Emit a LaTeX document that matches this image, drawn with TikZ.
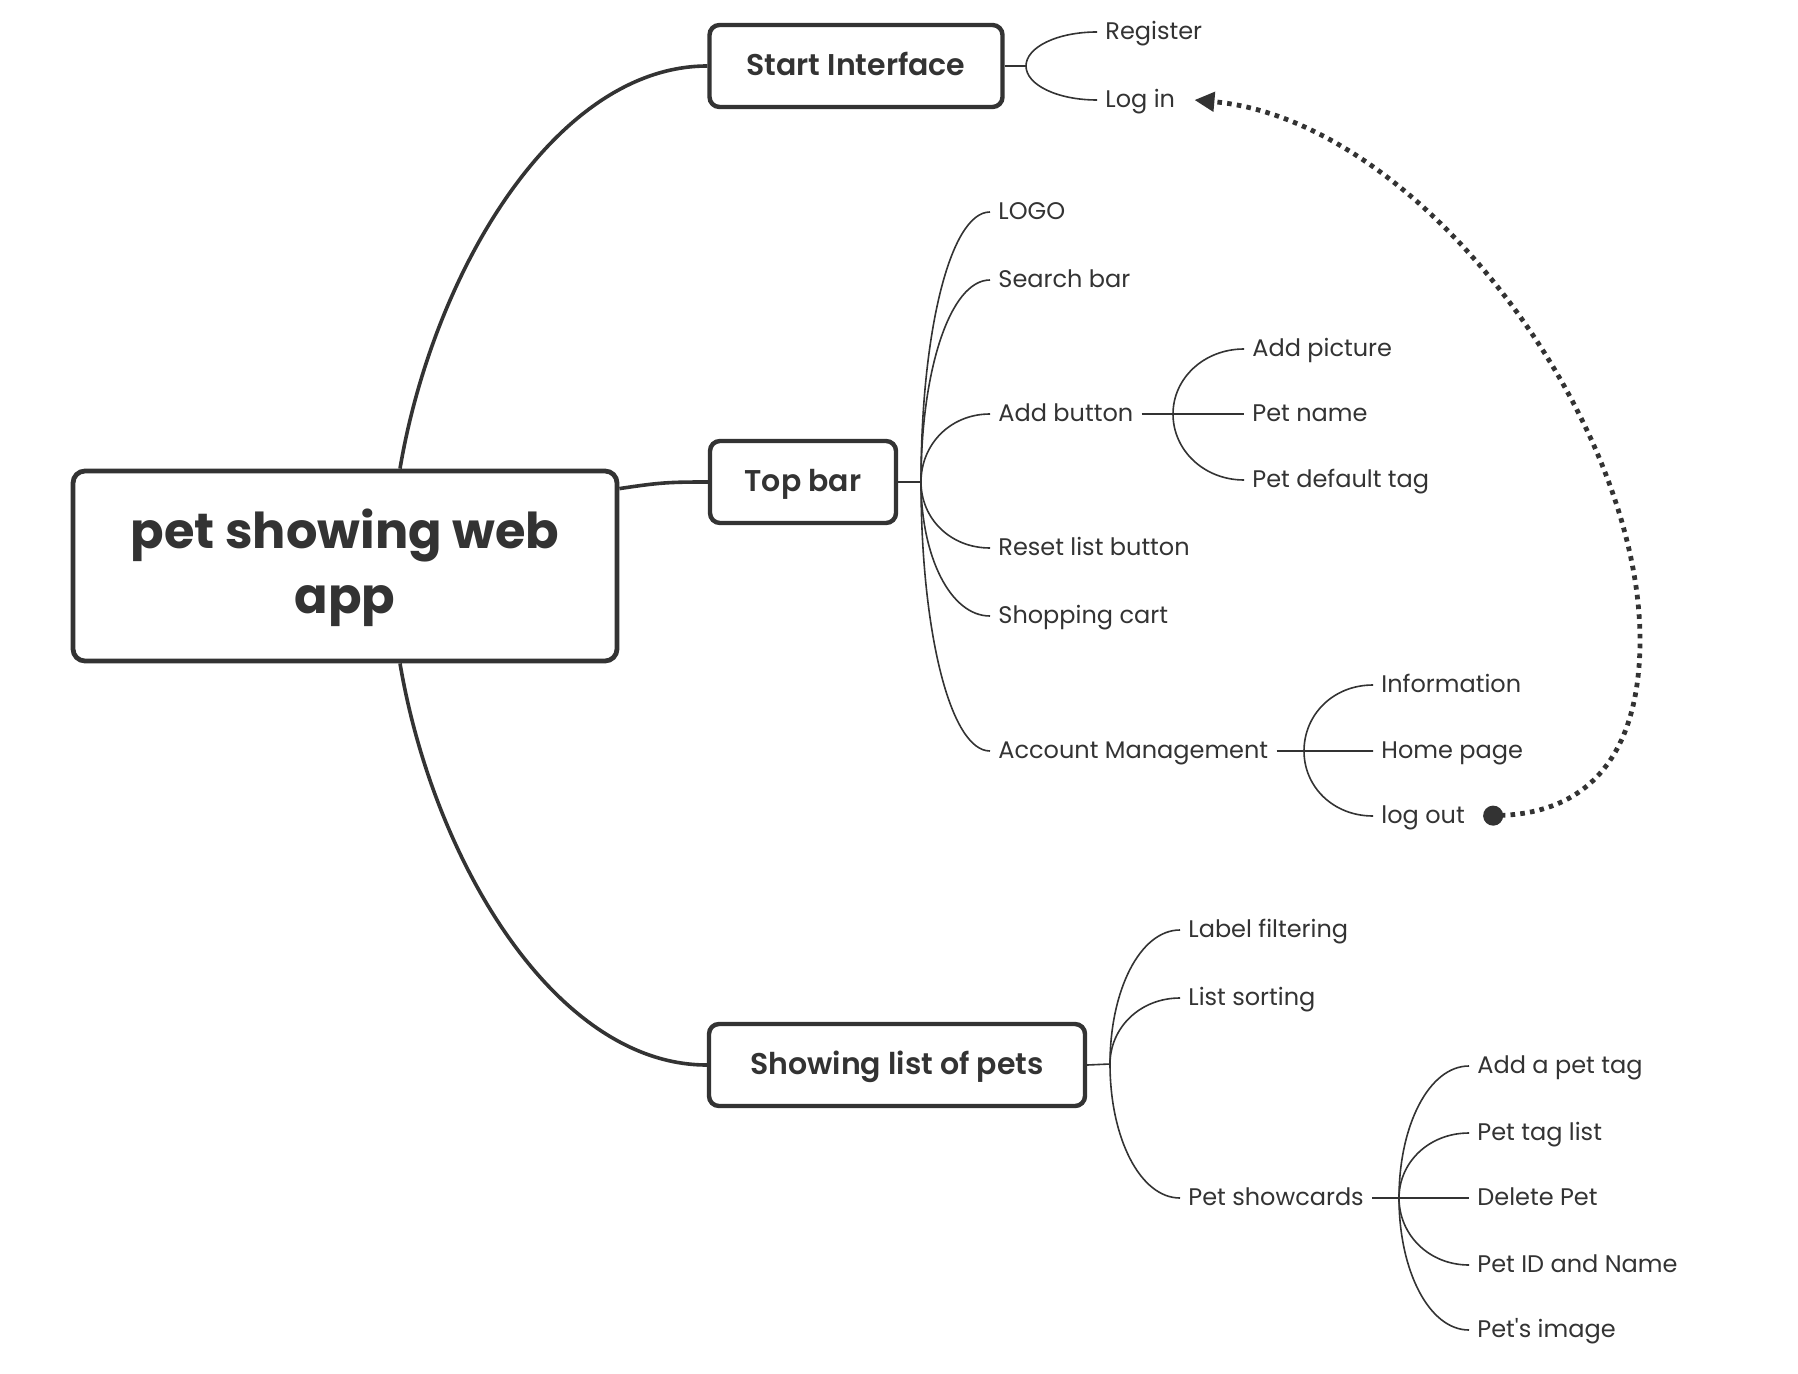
\documentclass[tikz,border=0pt]{standalone}
\usepackage{fontspec}
\setmainfont{Poppins}
\newfontfamily\semibold{Poppins SemiBold}
\usepackage{tikz}
\usetikzlibrary{arrows.meta,calc}
\definecolor{ink}{RGB}{51,51,51}

\tikzset{
  hub/.style={draw=ink,line width=2.4pt,rounded corners=6pt,fill=white,text=ink,
              font=\bfseries\fontsize{24.7}{32.5}\selectfont,align=center,
              minimum width=272pt,minimum height=95pt},
  topic/.style={draw=ink,line width=2.2pt,rounded corners=5pt,fill=white,text=ink,
                font=\semibold\fontsize{15}{18}\selectfont,minimum height=41pt,
                text height=0.93em,text depth=0pt},
  leaf/.style={anchor=west,inner xsep=4pt,text=ink,font=\fontsize{12}{14}\selectfont,
               text height=0.76em,text depth=0pt},
  trunk/.style={draw=ink,line width=1.8pt},
  twig/.style={draw=ink,line width=0.8pt},
  jump/.style={draw=ink,line width=2.4pt,dash pattern=on 2.3pt off 2.6pt,
               arrows={Circle[length=10pt]-Triangle[length=10pt,width=9.5pt]}},
}

\begin{document}
\begin{tikzpicture}[x=0.5pt,y=-0.5pt]
\useasboundingbox (0,0) rectangle (1798,1374);
% main topics
\node[hub] (root) at (345,566) {\rule{0pt}{22pt}pet showing web\\app};
\node[topic,minimum width=146.5pt] (start) at (856,66) {Start Interface};
\node[topic,minimum width=93pt] (top) at (803,482) {Top bar};
\node[topic,minimum width=188pt] (show) at (897,1065) {Showing list of pets};
% fork points
\coordinate (startf) at (1026,66);
\coordinate (topf) at (921,482);
\coordinate (showf) at (1110,1064);
\coordinate (addf) at (1173,414);
\coordinate (acctf) at (1304,751);
\coordinate (cardsf) at (1399,1198);
% leaves
\node[leaf] (reg) at (1097,32) {Register};
\node[leaf] (login) at (1097,100) {Log in};
\node[leaf] (logo) at (990,212) {LOGO};
\node[leaf] (search) at (990,280) {Search bar};
\node[leaf] (addb) at (990,414) {Add button};
\node[leaf] (reset) at (990,548) {Reset list button};
\node[leaf] (cart) at (990,616) {Shopping cart};
\node[leaf] (acct) at (990,751) {Account Management};
\node[leaf] (pic) at (1244,349) {Add picture};
\node[leaf] (pname) at (1244,414) {Pet name};
\node[leaf] (ptag) at (1244,480) {Pet default tag};
\node[leaf] (info) at (1373,685) {Information};
\node[leaf] (home) at (1373,751) {Home page};
\node[leaf] (logout) at (1373,816) {log out};
\node[leaf] (filt) at (1180,930) {Label filtering};
\node[leaf] (sort) at (1180,998) {List sorting};
\node[leaf] (cards) at (1180,1198) {Pet showcards};
\node[leaf] (addtag) at (1469,1066) {Add a pet tag};
\node[leaf] (taglist) at (1469,1133) {Pet tag list};
\node[leaf] (del) at (1469,1198) {Delete Pet};
\node[leaf] (pid) at (1469,1265) {Pet ID and Name};
\node[leaf] (img) at (1469,1330) {Pet\textquotesingle s image};
% root to topics
\draw[trunk] ($(root.north)+(55,0)$) .. controls +(34,-200) and +(-150,0) .. (start.west);
\draw[trunk] ($(root.north east)+(0,20)$) .. controls +(40,-6) and +(-40,0) .. (top.west);
\draw[trunk] ($(root.south)+(55,0)$) .. controls +(34,200) and +(-150,0) .. (show.west);
% stubs
\draw[twig] (start.east) -- (startf);
\draw[twig] (top.east) -- (topf);
\draw[twig] (show.east) -- (showf);
\draw[twig] (addb.east) -- (addf);
\draw[twig] (acct.east) -- (acctf);
\draw[twig] (cards.east) -- (cardsf);
% branches
\foreach \f/\l in {startf/reg,startf/login,
                   topf/logo,topf/search,topf/addb,topf/reset,topf/cart,topf/acct,
                   addf/pic,addf/pname,addf/ptag,
                   acctf/info,acctf/home,acctf/logout,
                   showf/filt,showf/sort,showf/cards,
                   cardsf/addtag,cardsf/taglist,cardsf/del,cardsf/pid,cardsf/img}
  \draw[twig] (\f) .. controls ($(\f)!0.55!(\f|-\l.west)$) and ($(\l.west)+(-40,0)$) .. (\l.west);
% log out back to log in
\draw[jump] ([xshift=5pt]logout.east) .. controls (1600,812) and (1640,740) .. (1640,640)
  .. controls (1640,420) and (1420,120) .. ([xshift=5.5pt]login.east);
\end{tikzpicture}
\end{document}
